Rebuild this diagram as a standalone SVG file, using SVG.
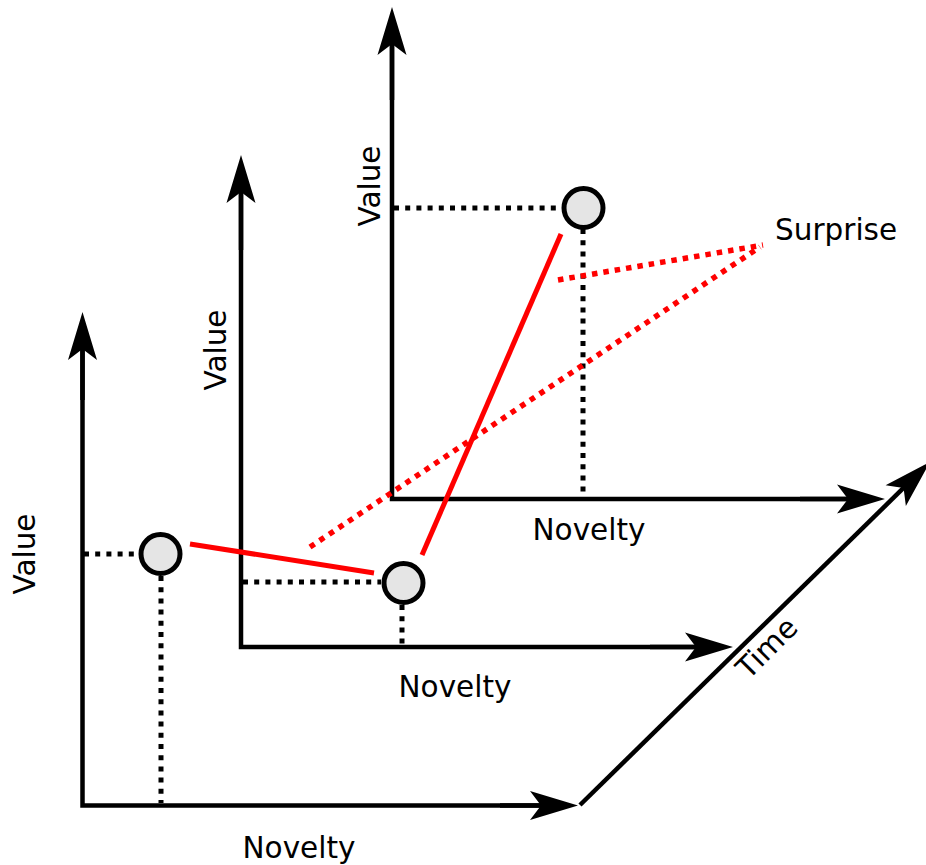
<svg xmlns="http://www.w3.org/2000/svg" width="926" height="865" viewBox="0 0 926 865">
<style>
.ax{fill:none;stroke:#000;stroke-width:4.5;stroke-linejoin:miter;stroke-linecap:butt}
.dot{fill:none;stroke:#000;stroke-width:5;stroke-dasharray:5 6.2}
.red{fill:none;stroke:#ff0000;stroke-width:5}
.reddot{fill:none;stroke:#ff0000;stroke-width:5.5;stroke-dasharray:5.5 6}
.pt{fill:#e5e5e5;stroke:#000;stroke-width:5}
text{font-family:"DejaVu Sans","Liberation Sans",sans-serif;font-size:29.5px;fill:#000}
</style>
<defs>
<marker id="ah" markerUnits="userSpaceOnUse" viewBox="-13 -16 52 32" markerWidth="52" markerHeight="32" refX="0" refY="0" orient="auto" overflow="visible">
<path d="M36,0 L-12,-14.5 L-1,0 L-12,14.5 Z" fill="#000"/>
</marker>
</defs>
<g id="connectors">
<polyline class="ax" points="392,43 392,499 849,499"/>
<line class="ax" x1="392" y1="100" x2="392" y2="43" marker-end="url(#ah)"/>
<line class="ax" x1="800" y1="499" x2="849" y2="499" marker-end="url(#ah)"/>
<polyline class="ax" points="241,191 241,647 697,647"/>
<line class="ax" x1="241" y1="250" x2="241" y2="191" marker-end="url(#ah)"/>
<line class="ax" x1="650" y1="647" x2="697" y2="647" marker-end="url(#ah)"/>
<polyline class="ax" points="82.5,348 82.5,805.5 542,805.5"/>
<line class="ax" x1="82.5" y1="400" x2="82.5" y2="348" marker-end="url(#ah)"/>
<line class="ax" x1="500" y1="805.5" x2="542" y2="805.5" marker-end="url(#ah)"/>
<line class="ax" x1="580" y1="805" x2="904.3" y2="487.2" marker-end="url(#ah)"/>
<line class="dot" x1="394" y1="208" x2="563" y2="208"/>
<line class="dot" x1="583" y1="229" x2="583" y2="497"/>
<line class="dot" x1="243" y1="582" x2="381" y2="582"/>
<line class="dot" x1="402" y1="605" x2="402" y2="645"/>
<line class="dot" x1="84" y1="554" x2="138" y2="554"/>
<line class="dot" x1="161" y1="576" x2="161" y2="803"/>
<line class="red" x1="190" y1="544" x2="374" y2="573"/>
<line class="red" x1="422" y1="555" x2="561" y2="234"/>
<line class="reddot" x1="558" y1="280" x2="763" y2="245"/>
<line class="reddot" x1="310" y1="547" x2="760" y2="247"/>
</g>
<g id="node-back"><circle class="pt" cx="583.5" cy="208" r="19.5"/></g>
<g id="node-middle"><circle class="pt" cx="403.5" cy="583" r="19.5"/></g>
<g id="node-front"><circle class="pt" cx="160.5" cy="554" r="19.5"/></g>
<g id="labels">
<text x="775" y="240">Surprise</text>
<text x="589" y="540" text-anchor="middle">Novelty</text>
<text x="455" y="697" text-anchor="middle">Novelty</text>
<text x="299" y="858" text-anchor="middle">Novelty</text>
<text transform="translate(380,186) rotate(-90)" text-anchor="middle">Value</text>
<text transform="translate(226,350) rotate(-90)" text-anchor="middle">Value</text>
<text transform="translate(35,554) rotate(-90)" text-anchor="middle">Value</text>
<text transform="translate(774,655) rotate(-45)" text-anchor="middle">Time</text>
</g>
</svg>
